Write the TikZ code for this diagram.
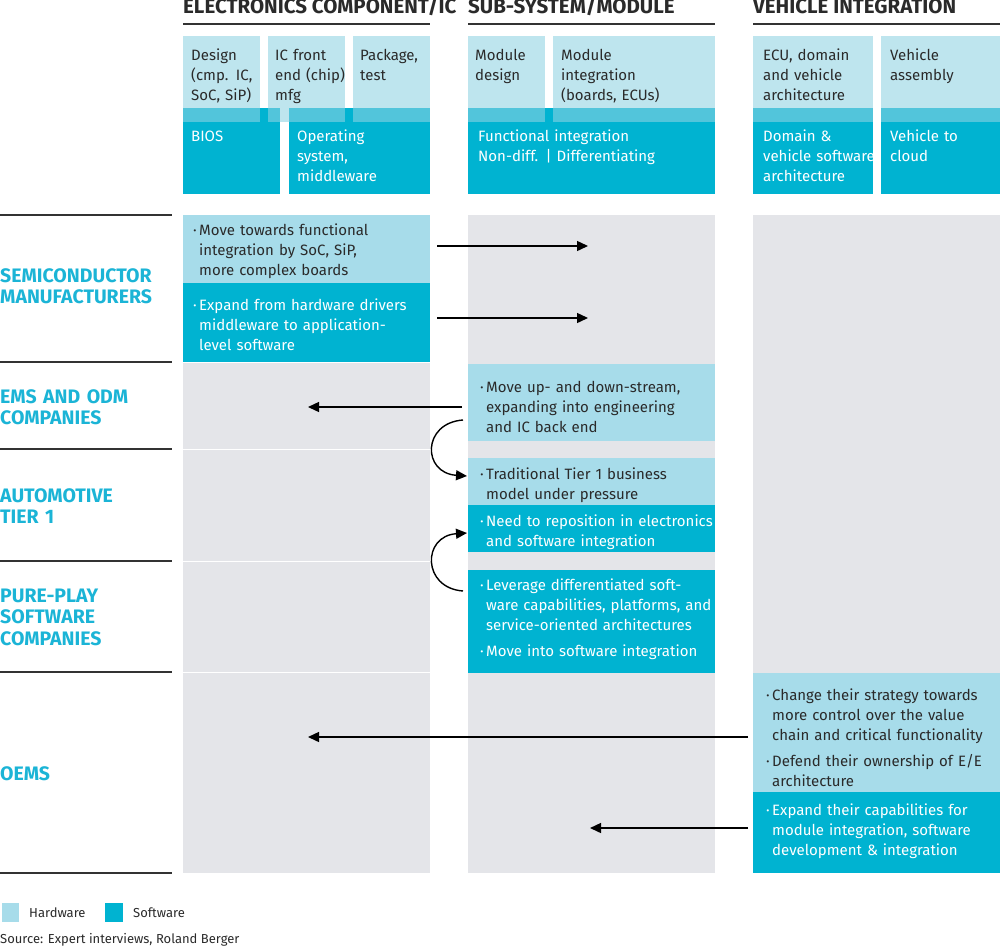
\documentclass[tikz,border=0pt]{standalone}
\usepackage{fontspec}
\setmainfont{Fira Sans}
\usetikzlibrary{arrows.meta}
\definecolor{hwlight}{HTML}{BEE5EE}
\definecolor{hwbody}{HTML}{A7DCEA}
\definecolor{swdark}{HTML}{00B3D1}
\definecolor{overlapc}{HTML}{52C5DB}
\definecolor{graybg}{HTML}{E4E5E9}
\definecolor{labelcyan}{HTML}{1BB4D6}
\definecolor{txt}{HTML}{2A2A2A}
\definecolor{rulec}{HTML}{333333}
\newcommand{\bul}{\llap{·\hspace{2.5pt}}}
\tikzset{
  boxtxt/.style={anchor=base west, inner sep=0pt, text width=300pt, align=left, font=\fontsize{15}{20}\selectfont},
  hwtxt/.style={boxtxt, text=txt},
  swtxt/.style={boxtxt, text=white},
  coltitle/.style={anchor=base west, inner sep=0pt, font=\fontsize{20.5}{21}\selectfont\bfseries, text=txt},
  rowlabel/.style={anchor=base west, inner sep=0pt, text width=200pt, align=left, font=\fontsize{19.5}{21.5}\selectfont\bfseries, text=labelcyan},
  rulestyle/.style={draw=rulec, line width=2pt},
  flow/.style={draw=black, line width=1.4pt, -{Triangle[length=11pt,width=10pt]}},
  legtxt/.style={anchor=base west, inner sep=0pt, font=\fontsize{13}{15}\selectfont, text=txt}
}
\begin{document}
\begin{tikzpicture}[x=1pt,y=-1pt]
\useasboundingbox (0,0) rectangle (1000,947);

% column titles
\node[coltitle] (t1) at (183,14) {ELECTRONICS COMPONENT/IC};
\node[coltitle] (t2) at (468,14) {SUB-SYSTEM/MODULE};
\node[coltitle] (t3) at (753,14) {VEHICLE INTEGRATION};
\draw[rulestyle] (183,24) -- (430,24);
\draw[rulestyle] (468,24) -- (715,24);
\draw[rulestyle] (753,24) -- (1000,24);

% header boxes: software (dark)
\fill[swdark] (183,108) rectangle (280,194);
\fill[swdark] (289,108) rectangle (430,194);
\fill[swdark] (468,108) rectangle (715,194);
\fill[swdark] (753,108) rectangle (873,194);
\fill[swdark] (881,108) rectangle (1000,194);
% header boxes: hardware (light)
\fill[hwlight] (183,36) rectangle (260,122);
\fill[hwlight] (268,36) rectangle (345,122);
\fill[hwlight] (353,36) rectangle (430,122);
\fill[hwlight] (468,36) rectangle (545,122);
\fill[hwlight] (553,36) rectangle (715,122);
\fill[hwlight] (753,36) rectangle (873,122);
\fill[hwlight] (881,36) rectangle (1000,122);
% overlaps
\fill[overlapc] (183,108) rectangle (260,122);
\fill[overlapc] (268,108) rectangle (280,122);
\fill[overlapc] (289,108) rectangle (345,122);
\fill[overlapc] (353,108) rectangle (430,122);
\fill[overlapc] (468,108) rectangle (545,122);
\fill[overlapc] (553,108) rectangle (715,122);
\fill[overlapc] (753,108) rectangle (873,122);
\fill[overlapc] (881,108) rectangle (1000,122);

% header texts
\node[hwtxt] (h1) at (191,61) {Design\\(cmp. IC,\\SoC, SiP)};
\node[hwtxt] (h2) at (275,61) {IC front\\end (chip)\\mfg};
\node[hwtxt] (h3) at (360,61) {Package,\\test};
\node[hwtxt] (h4) at (475,61) {Module\\design};
\node[hwtxt] (h5) at (561,61) {Module\\integration\\(boards, ECUs)};
\node[hwtxt] (h6) at (763,61) {ECU, domain\\and vehicle\\architecture};
\node[hwtxt] (h7) at (890,61) {Vehicle\\assembly};
\node[swtxt] (s1) at (191,141) {BIOS};
\node[swtxt] (s2) at (297,141) {Operating\\system,\\middleware};
\node[swtxt] (s3) at (478,141) {Functional integration\\Non-diff. | Differentiating};
\node[swtxt] (s4) at (763,141) {Domain \&\\vehicle software\\architecture};
\node[swtxt] (s5) at (890,141) {Vehicle to\\cloud};

% gray row backgrounds (left column split into rows)
\fill[graybg] (183,215) rectangle (430,361.5);
\fill[graybg] (183,363) rectangle (430,448.5);
\fill[graybg] (183,450) rectangle (430,560.5);
\fill[graybg] (183,562) rectangle (430,671.5);
\fill[graybg] (183,673) rectangle (430,873);
\fill[graybg] (468,215) rectangle (715,873);
\fill[graybg] (753,215) rectangle (1000,873);

% row rules and labels
\foreach \yy in {215,362,449,561,672,873}{
  \draw[rulestyle] (0,\yy) -- (172,\yy);
}
\node[rowlabel] (r1) at (0,282) {SEMICONDUCTOR\\MANUFACTURERS};
\node[rowlabel] (r2) at (0,403) {EMS AND ODM\\COMPANIES};
\node[rowlabel] (r3) at (0,502) {AUTOMOTIVE\\TIER 1};
\node[rowlabel] (r4) at (0,602) {PURE-PLAY\\SOFTWARE\\COMPANIES};
\node[rowlabel] (r5) at (0,780) {OEMS};

% body boxes
\fill[hwbody] (183,215) rectangle (430,283);
\fill[swdark] (183,283) rectangle (430,362);
\fill[hwbody] (468,364) rectangle (715,441);
\fill[hwbody] (468,458) rectangle (715,505);
\fill[swdark] (468,505) rectangle (715,552);
\fill[swdark] (468,570) rectangle (715,673);
\fill[hwbody] (753,673) rectangle (1000,792);
\fill[swdark] (753,792) rectangle (1000,873);

% body texts
\node[hwtxt] (b1) at (199,235) {\bul Move towards functional\\integration by SoC, SiP,\\more complex boards};
\node[swtxt] (b2) at (199,310) {\bul Expand from hardware drivers\\middleware to application-\\level software};
\node[hwtxt] (b3) at (486,392) {\bul Move up- and down-stream,\\expanding into engineering\\and IC back end};
\node[hwtxt] (b4) at (486,479) {\bul Traditional Tier 1 business\\model under pressure};
\node[swtxt] (b5) at (486,526) {\bul Need to reposition in electronics\\and software integration};
\node[swtxt] (b6) at (486,590) {\bul Leverage differentiated soft-\\ware capabilities, platforms, and\\service-oriented architectures};
\node[swtxt] (b7) at (486,656) {\bul Move into software integration};
\node[hwtxt] (b8) at (772,700) {\bul Change their strategy towards\\more control over the value\\chain and critical functionality};
\node[hwtxt] (b9) at (772,766) {\bul Defend their ownership of E/E\\architecture};
\node[swtxt] (b10) at (772,815) {\bul Expand their capabilities for\\module integration, software\\development \& integration};

% arrow end points
\coordinate (a1s) at (437,246);  \coordinate (a1e) at (588,246);
\coordinate (a2s) at (437,318);  \coordinate (a2e) at (588,318);
\coordinate (a3s) at (462,407);  \coordinate (a3e) at (308,407);
\coordinate (a4s) at (463,420);  \coordinate (a4e) at (467,476);
\coordinate (a5s) at (463,591);  \coordinate (a5e) at (467,533);
\coordinate (a6s) at (748,737);  \coordinate (a6e) at (308,737);
\coordinate (a7s) at (748,828);  \coordinate (a7e) at (590,828);

\draw[flow] (a1s) -- (a1e);
\draw[flow] (a2s) -- (a2e);
\draw[flow] (a3s) -- (a3e);
\draw[flow] (a4s) .. controls (422,423) and (422,473) .. (a4e);
\draw[flow] (a5s) .. controls (422,588) and (422,536) .. (a5e);
\draw[flow] (a6s) -- (a6e);
\draw[flow] (a7s) -- (a7e);

% legend
\fill[hwbody] (2,903) rectangle (19,922);
\node[legtxt] (l1) at (29,917) {Hardware};
\fill[swdark] (105,903) rectangle (123,922);
\node[legtxt] (l2) at (133,917) {Software};
\node[legtxt] (src) at (0,943) {Source: Expert interviews, Roland Berger};
\end{tikzpicture}
\end{document}
